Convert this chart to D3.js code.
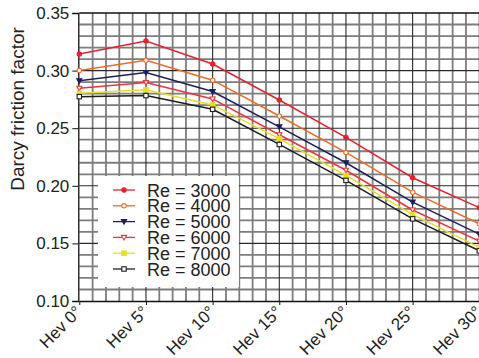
<!DOCTYPE html>
<html>
<head>
<meta charset="utf-8">
<script src="https://cdn.jsdelivr.net/npm/d3@7"></script>
<style>
  body { margin: 0; background: #fff; }
  svg { display: block; font-family: "Liberation Sans", Arial, sans-serif; }
</style>
</head>
<body>
<div id="chart"></div>
<script>
// Data
const angles = [0, 5, 10, 15, 20, 25, 30];
const angleLabels = ["Hev 0°", "Hev 5°", "Hev 10°", "Hev 15°", "Hev 20°", "Hev 25°", "Hev 30°"];
const yTicks = [0.10, 0.15, 0.20, 0.25, 0.30, 0.35];

const re3000 = [0.3144, 0.3257, 0.3057, 0.2745, 0.2420, 0.2070, 0.1810];
const re4000 = [0.3001, 0.3090, 0.2917, 0.2606, 0.2290, 0.1945, 0.1670];
const re5000 = [0.2911, 0.2983, 0.2818, 0.2512, 0.2200, 0.1858, 0.1580];
const re6000 = [0.2847, 0.2896, 0.2754, 0.2443, 0.2135, 0.1790, 0.1520];
const re7000 = [0.2804, 0.2833, 0.2702, 0.2410, 0.2090, 0.1750, 0.1465];
const re8000 = [0.2774, 0.2783, 0.2664, 0.2359, 0.2047, 0.1713, 0.1436];

const series = [
  { name: "Re = 3000", values: re3000, color: "#e8202e", marker: "circle", fill: true },
  { name: "Re = 4000", values: re4000, color: "#f06a24", marker: "circle", fill: false },
  { name: "Re = 5000", values: re5000, color: "#1c1f5c", marker: "triangle", fill: true },
  { name: "Re = 6000", values: re6000, color: "#f0303c", marker: "triangle", fill: false },
  { name: "Re = 7000", values: re7000, color: "#e6e020", marker: "square", fill: true },
  { name: "Re = 8000", values: re8000, color: "#1e1e1e", marker: "square", fill: false }
];

const W = 479, H = 358;
const svg = d3.select("#chart").append("svg").attr("width", W).attr("height", H);

const x = d3.scaleLinear().domain([0, 30]).range([79.3, 479.3]);
const y = d3.scaleLinear().domain([0.10, 0.35]).range([301, 13]);

// grid
const grid = svg.append("g");
const minorX = d3.range(0, 31).filter(d => d % 5 !== 0);
const minorY = d3.range(11, 35).filter(d => d % 5 !== 0).map(d => d / 100);

grid.selectAll("line.vx").data(minorX).join("line")
  .attr("x1", d => x(d)).attr("x2", d => x(d))
  .attr("y1", y(0.35)).attr("y2", y(0.10))
  .attr("stroke", "#7d7d7d").attr("stroke-width", 1.8);

grid.selectAll("line.hy").data(minorY).join("line")
  .attr("x1", x(0)).attr("x2", W)
  .attr("y1", d => y(d)).attr("y2", d => y(d))
  .attr("stroke", "#7d7d7d").attr("stroke-width", 1.8);

grid.selectAll("line.mx").data(angles.slice(1)).join("line")
  .attr("x1", d => x(d)).attr("x2", d => x(d))
  .attr("y1", y(0.35)).attr("y2", y(0.10))
  .attr("stroke", "#2a2a2a").attr("stroke-width", 1.1);

grid.selectAll("line.my").data(yTicks.slice(1, -1)).join("line")
  .attr("x1", x(0)).attr("x2", W)
  .attr("y1", d => y(d)).attr("y2", d => y(d))
  .attr("stroke", "#2a2a2a").attr("stroke-width", 1.1);

// top border
svg.append("line")
  .attr("x1", x(0)).attr("x2", W)
  .attr("y1", y(0.35)).attr("y2", y(0.35))
  .attr("stroke", "#111").attr("stroke-width", 1.5);

// axes
const yAxis = d3.axisLeft(y).tickValues(yTicks).tickFormat(d3.format(".2f")).tickSize(6).tickPadding(3);
const gy = svg.append("g").attr("transform", `translate(${x(0) - 1},0)`).call(yAxis);
gy.select(".domain").attr("stroke", "#111").attr("stroke-width", 1.3);
gy.selectAll(".tick line").attr("stroke", "#111");
gy.selectAll("text").attr("font-size", 17).attr("fill", "#222")
  .attr("font-family", "Liberation Sans, Arial, sans-serif");

const xAxis = d3.axisBottom(x).tickValues(angles).tickFormat((d, i) => angleLabels[i]).tickSize(4).tickSizeOuter(0);
const gx = svg.append("g").attr("transform", `translate(0,${y(0.10)})`).call(xAxis);
gx.select(".domain").attr("stroke", "#111").attr("stroke-width", 1.3);
gx.selectAll(".tick line").attr("stroke", "#111");
gx.selectAll("text")
  .attr("font-size", 17).attr("fill", "#222")
  .attr("font-family", "Liberation Sans, Arial, sans-serif")
  .attr("text-anchor", "end")
  .attr("dy", 0)
  .attr("y", 0)
  .attr("transform", "translate(3,12) rotate(-45)");

// axis title
svg.append("text")
  .attr("transform", "translate(24,109) rotate(-90)")
  .attr("text-anchor", "middle")
  .attr("font-size", 19).attr("fill", "#222")
  .text("Darcy friction factor");

// markers
function drawMarker(g, s, cx, cy) {
  const fill = s.fill ? s.color : "#fff";
  if (s.marker === "circle") {
    g.append("circle").attr("cx", cx).attr("cy", cy).attr("r", 2.2)
      .attr("fill", fill).attr("stroke", s.color).attr("stroke-width", 1.1);
  } else if (s.marker === "triangle") {
    g.append("path")
      .attr("d", `M${cx - 2.6},${cy - 2}L${cx + 2.6},${cy - 2}L${cx},${cy + 2.6}Z`)
      .attr("fill", fill).attr("stroke", s.color).attr("stroke-width", 1.1);
  } else {
    g.append("rect").attr("x", cx - 2.2).attr("y", cy - 2.2).attr("width", 4.4).attr("height", 4.4)
      .attr("fill", fill).attr("stroke", s.color).attr("stroke-width", 1.1);
  }
}

const line = d3.line().x((d, i) => x(angles[i])).y(d => y(d));
const gLines = svg.append("g");
series.forEach(s => {
  gLines.append("path").datum(s.values)
    .attr("d", line)
    .attr("fill", "none").attr("stroke", s.color).attr("stroke-width", 1.5);
});
series.forEach(s => {
  s.values.forEach((v, i) => drawMarker(gLines, s, x(angles[i]), y(v)));
});

// legend
const lg = svg.append("g");
lg.append("rect").attr("x", 98).attr("y", 176).attr("width", 141).attr("height", 111).attr("fill", "#fff");
series.forEach((s, i) => {
  const cy = 190 + i * 15.8;
  lg.append("line").attr("x1", 113).attr("x2", 135).attr("y1", cy).attr("y2", cy)
    .attr("stroke", s.color).attr("stroke-width", 1.3);
  drawMarker(lg, s, 124, cy);
  lg.append("text").attr("x", 147).attr("y", cy + 6.5)
    .attr("font-size", 18).attr("fill", "#222").text(s.name);
});
</script>
</body>
</html>
